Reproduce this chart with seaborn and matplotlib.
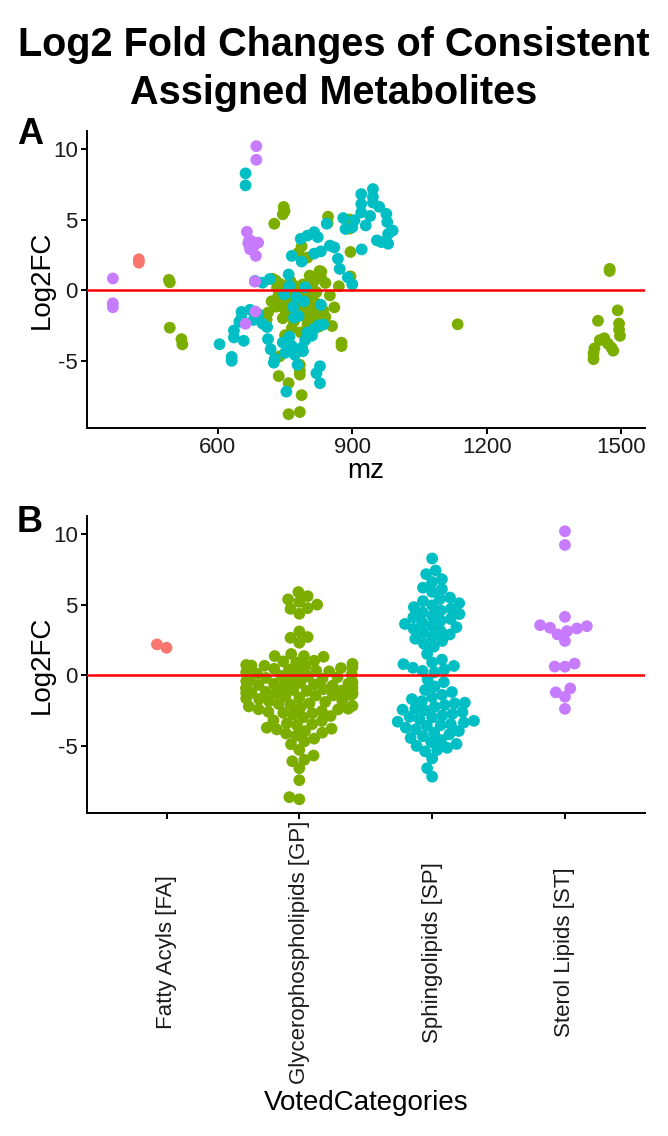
import matplotlib
matplotlib.use('Agg')
import matplotlib.pyplot as plt
import seaborn as sns
import pandas as pd

# categorias e cores (paleta padrao do ggplot)
categories = ['Fatty Acyls [FA]', 'Glycerophospholipids [GP]',
              'Sphingolipids [SP]', 'Sterol Lipids [ST]']
palette = ['#F8766D', '#7CAE00', '#00BFC4', '#C77CFF']

# Fatty Acyls
fa_mz = [424, 424]
fa_fc = [2.18, 1.94]

# Glycerophospholipids
gp_mz = [491, 493, 493, 519, 521,
         747, 749, 745, 846, 894, 845, 726, 894,
         787, 896, 780, 800,
         1474, 1474, 1492, 1448, 1495, 1495, 1497, 1452, 1462, 1470, 1478, 1482, 1440, 1438, 1438,
         1135,
         738, 736, 758, 783, 783, 783, 787, 758, 783,
         876, 876, 805, 709, 758, 790, 815,
         729, 762, 805, 831, 896, 827, 830, 815, 770, 790, 810, 840, 760, 870,
         745, 775, 800, 820, 735, 755, 785, 810, 740, 765, 820, 720, 850,
         795, 730, 750, 780, 805, 760, 790, 712, 745, 840, 860,
         770, 800, 825, 765, 785, 750, 810,
         722, 738, 752, 768, 778, 792, 808, 818, 835, 748, 772, 798, 815, 732, 762, 788, 826, 855]
gp_fc = [0.72, 0.55, -2.67, -3.48, -3.85,
         5.89, 5.60, 5.37, 5.20, 5.00, 4.75, 4.70, 4.35,
         3.10, 2.70, 2.65, 2.30,
         1.50, 1.35, -1.44, -2.18, -2.38, -2.80, -3.25, -3.55, -3.42, -3.80, -4.08, -4.30, -4.14, -4.50, -4.90,
         -2.43,
         -4.70, -6.10, -6.60, -5.30, -5.70, -6.00, -7.45, -8.80, -8.65,
         -3.73, -3.97, -1.12, -2.10, -1.28, -0.62, -2.05,
         0.68, 0.64, 1.02, 1.30, 0.97, 1.35, 0.90, 0.66, 0.31, 0.40, 0.20, 0.50, 0.10, 0.27,
         -0.10, -0.20, -0.30, -0.15, -0.42, -0.60, -0.50, -0.70, -0.90, -1.00, -0.95, -0.80, -0.38,
         -1.10, -1.18, -1.40, -1.30, -1.50, -1.70, -1.80, -1.60, -2.00, -1.90, -1.23,
         -2.22, -2.42, -2.60, -2.70, -3.00, -3.20, -2.90,
         0.80, 0.45, 0.05, -0.25, -0.55, -0.75, -1.05, -1.25, -1.45, -0.65, -0.85, -1.65, -2.30, 0.15, -0.05, -1.35, -1.85, -2.55]

# Sphingolipids
sp_mz = [662, 662,
         604, 636, 636, 658, 631, 631, 653, 653, 648,
         672, 680, 690, 700, 710,
         683, 700, 716, 758, 760,
         765, 787, 785, 800, 815, 823, 815, 830,
         920, 946, 946, 946, 920, 920, 976, 960,
         978, 980, 980, 955, 965, 843, 850, 860, 885, 900,
         921, 868, 872, 890, 900, 930, 990, 905, 880, 940,
         712, 718, 725, 727, 745, 750, 753, 765, 768, 770,
         772, 778, 780, 788, 790, 792, 795, 800, 805, 810,
         810, 815, 820, 825, 828, 828, 835, 830, 760,
         748, 775, 795]
sp_fc = [8.27, 7.42,
         -3.84, -2.87, -3.36, -3.60, -4.74, -5.02, -1.55, -2.00, -2.25,
         -1.40, -2.12, -1.70, -2.38, -2.62,
         0.65, 0.52, 0.78, 1.10, 0.30,
         2.42, 2.02, 3.63, 3.86, 4.10, 3.75, 2.58, 2.74,
         6.80, 7.16, 6.60, 6.20, 6.10, 5.50, 5.40, 5.90,
         4.82, 3.98, 3.28, 3.52, 3.40, 4.70, 3.15, 3.02, 4.33, 4.45,
         2.88, 2.22, 1.50, 0.90, 0.40, 4.58, 4.22, 4.95, 5.10, 5.25,
         -3.48, -4.20, -5.15, -4.88, -3.72, -4.46, -7.20, -3.96, -1.20, -1.95,
         -4.60, -5.30, -1.85, -4.08, -4.33, -0.80, -3.55, -3.00, -3.12, -3.24,
         -2.95, -2.75, -5.90, -2.50, -5.40, -6.60, -2.45, -1.05, -3.30,
         -0.30, -0.50, 0.20]

# Sterol Lipids
st_mz = [366, 366, 366, 686, 686,
         665, 670, 675, 690, 668, 680, 672, 685,
         683, 683, 684, 662]
st_fc = [0.82, -0.94, -1.22, 10.20, 9.23,
         4.13, 3.54, 3.47, 3.36, 3.31, 3.12, 2.89, 2.42,
         0.61, 0.60, -1.53, -2.39]

df = pd.concat([
    pd.DataFrame({'mz': fa_mz, 'Log2FC': fa_fc, 'VotedCategories': categories[0]}),
    pd.DataFrame({'mz': gp_mz, 'Log2FC': gp_fc, 'VotedCategories': categories[1]}),
    pd.DataFrame({'mz': sp_mz, 'Log2FC': sp_fc, 'VotedCategories': categories[2]}),
    pd.DataFrame({'mz': st_mz, 'Log2FC': st_fc, 'VotedCategories': categories[3]}),
], ignore_index=True)

sns.set_style('ticks')
plt.rcParams['font.family'] = ['Liberation Sans', 'DejaVu Sans']
plt.rcParams['axes.unicode_minus'] = False
plt.rcParams['text.color'] = 'black'
plt.rcParams['axes.labelcolor'] = 'black'

fig = plt.figure(figsize=(6.68, 11.36), dpi=100)
ax1 = fig.add_axes([0.130, 0.623, 0.835, 0.262])
ax2 = fig.add_axes([0.130, 0.284, 0.835, 0.262])

fig.text(0.5, 1 - 69 / 1136, 'Log2 Fold Changes of Consistent\nAssigned Metabolites',
         ha='center', va='center', fontsize=28.5, fontweight='bold', linespacing=1.3)

# Grafico A: mz vs Log2FC
sns.scatterplot(data=df, x='mz', y='Log2FC', hue='VotedCategories', hue_order=categories,
                palette=palette, s=72, linewidth=0, alpha=1, legend=False, ax=ax1)
ax1.axhline(0, color='red', lw=1.8, zorder=5)
ax1.set_xlim(308, 1552)
ax1.set_xticks([600, 900, 1200, 1500])

# Grafico B: beeswarm por categoria (layout com pontos um pouco menores -> leve sobreposicao)
sns.swarmplot(data=df, x='VotedCategories', y='Log2FC', hue='VotedCategories', order=categories,
              hue_order=categories, palette=palette, size=7.0, linewidth=0, legend=False, ax=ax2)
ax2.axhline(0, color='red', lw=1.8, zorder=5)
ax2.set_xlim(-0.6, 3.6)

for ax in (ax1, ax2):
    ax.set_ylim(-9.8, 11.3)
    ax.set_yticks([-5, 0, 5, 10])
    sns.despine(ax=ax)
    for s in ('left', 'bottom'):
        ax.spines[s].set_linewidth(1.4)
        ax.spines[s].set_color('black')
    ax.tick_params(length=4, width=1.4, color='black', labelsize=16, labelcolor='#1a1a1a', pad=2.5)
    ax.set_ylabel('Log2FC', fontsize=20, labelpad=-1)

ax1.set_xlabel('mz', fontsize=20, labelpad=0)
ax2.set_xlabel('VotedCategories', fontsize=20, labelpad=4)

ax2.tick_params(axis='x', pad=96)
plt.setp(ax2.get_xticklabels(), rotation=90, va='center', ha='center')

fig.text(0.045, 1 - 135 / 1136, 'A', fontsize=26, fontweight='bold', ha='center', va='center')
fig.text(0.045, 1 - 522 / 1136, 'B', fontsize=26, fontweight='bold', ha='center', va='center')

# fixa as posicoes do swarm e aumenta os pontos depois
fig.canvas.draw()
for coll in ax2.collections:
    if 'draw' in coll.__dict__:
        del coll.draw
    coll.set_sizes([72])

fig.savefig('out.png', dpi=100)
